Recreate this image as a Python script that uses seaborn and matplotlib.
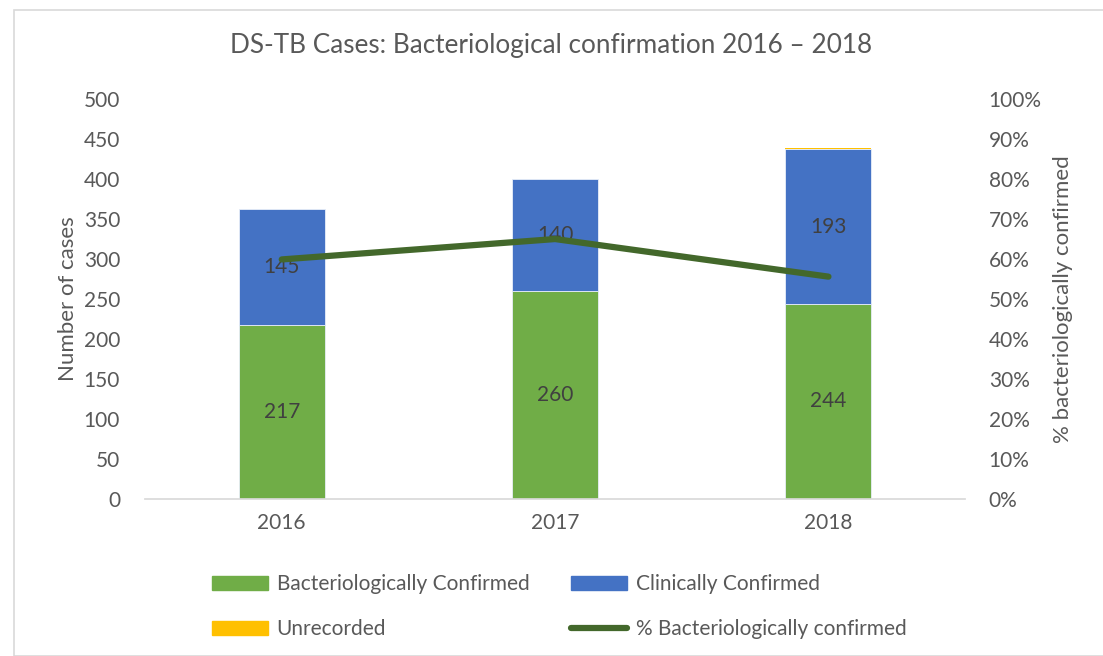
import matplotlib
matplotlib.use("Agg")
import matplotlib.pyplot as plt
import seaborn as sns
import pandas as pd
from matplotlib.patches import Rectangle, Patch
from matplotlib.lines import Line2D
from matplotlib.ticker import PercentFormatter

years = ["2016", "2017", "2018"]
bact_confirmed = [217, 260, 244]
clin_confirmed = [145, 140, 193]
unrecorded = [0, 0, 2]
pct_bact = [59.9, 65.0, 55.6]

GREEN = "#70AD47"
BLUE = "#4472C4"
YELLOW = "#FFC000"
LINE = "#43682B"
TXT = "#595959"

sns.set_theme(style="white")
plt.rcParams["font.family"] = ["Lato", "DejaVu Sans"]

df = pd.DataFrame({"year": years, "bact": bact_confirmed, "clin": clin_confirmed,
                   "unrec": unrecorded, "pct": pct_bact})
df["bottom_unrec"] = df["bact"] + df["clin"]

fig = plt.figure(figsize=(11.03, 6.56), dpi=100)
ax = fig.add_axes([0.1315, 0.2393, 0.7435, 0.6097])

w = 0.315
sns.barplot(data=df, x="year", y="bact", color=GREEN, width=w, ax=ax, saturation=1,
            linewidth=0.6, edgecolor="#E8EEF8")
sns.barplot(data=df, x="year", y="clin", color=BLUE, width=w, ax=ax, saturation=1,
            bottom=df["bact"].values, linewidth=0.6, edgecolor="#E8EEF8")
sns.barplot(data=df, x="year", y="unrec", color=YELLOW, width=w, ax=ax, saturation=1,
            bottom=df["bottom_unrec"].values, linewidth=0)

for i, (b, c) in enumerate(zip(bact_confirmed, clin_confirmed)):
    ax.text(i, b / 2, str(b), ha="center", va="center", fontsize=15, color="#404040")
    ax.text(i, b + c / 2, str(c), ha="center", va="center", fontsize=15, color="#404040")

ax.set_ylim(0, 500)
ax.set_yticks(range(0, 501, 50))
ax.set_xlim(-0.5, 2.5)
ax.set_xlabel("")
ax.set_ylabel("Number of cases", fontsize=16, color=TXT, labelpad=4)
ax.tick_params(axis="both", labelsize=15, colors=TXT, length=0)
ax.tick_params(axis="x", pad=10)
ax.tick_params(axis="y", pad=18)
for s in ["top", "right", "left"]:
    ax.spines[s].set_visible(False)
ax.spines["bottom"].set_color("#D9D9D9")

ax2 = ax.twinx()
sns.lineplot(data=df, x="year", y="pct", color=LINE, linewidth=4.5, ax=ax2, sort=False)
ax2.set_ylim(0, 100)
ax2.set_yticks(range(0, 101, 10))
ax2.yaxis.set_major_formatter(PercentFormatter(decimals=0))
ax2.set_ylabel("% bacteriologically confirmed", fontsize=16, color=TXT, labelpad=8)
ax2.tick_params(axis="y", labelsize=15, colors=TXT, length=0, pad=17)
for s in ["top", "right", "left", "bottom"]:
    ax2.spines[s].set_visible(False)
ax2.set_xlim(-0.5, 2.5)

fig.suptitle("DS-TB Cases: Bacteriological confirmation 2016 \u2013 2018", y=0.95,
             fontsize=18.8, color=TXT)

handles = [Patch(color=GREEN), Patch(color=YELLOW), Patch(color=BLUE),
           Line2D([0], [0], color=LINE, linewidth=4.5)]
labels = ["Bacteriologically Confirmed", "Unrecorded", "Clinically Confirmed",
          "% Bacteriologically confirmed"]
fig.legend(handles, labels, ncol=2, loc="center", bbox_to_anchor=(0.507, 0.075),
           frameon=False, fontsize=15, labelcolor=TXT, handlelength=2.7,
           handleheight=0.6, columnspacing=2.0, labelspacing=1.2, handletextpad=0.4)

fig.patches.append(Rectangle((14 / 1103, 0), 1.1, 1 - 10 / 656, transform=fig.transFigure,
                             fill=False, edgecolor="#D9D9D9", linewidth=1.2))

fig.savefig("out.png", dpi=100)
